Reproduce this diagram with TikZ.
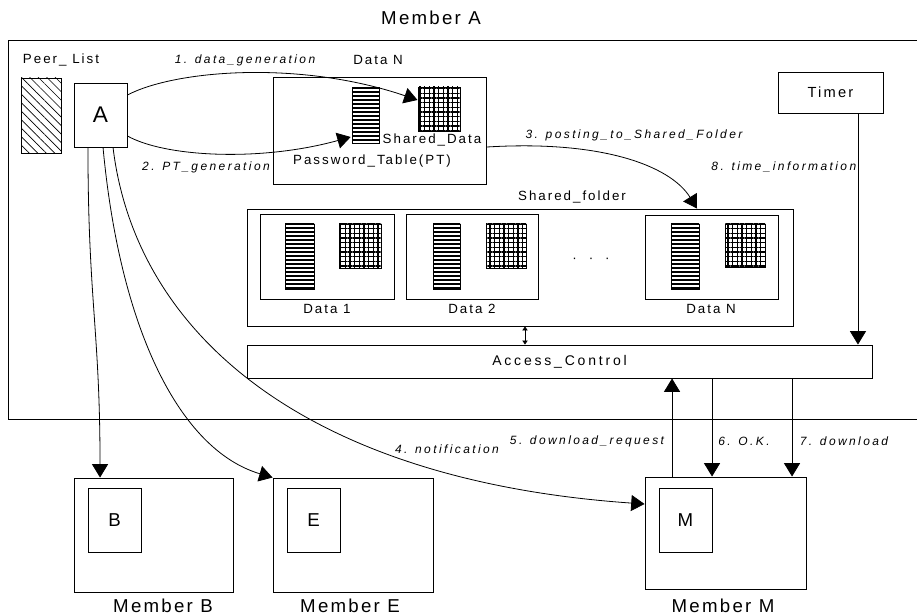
\documentclass[tikz,border=0pt]{standalone}
\usepackage{fontspec}
\setmainfont{Liberation Sans}
\newfontfamily\tagfont[LetterSpace=15]{Liberation Sans}
\newfontfamily\stepfont[LetterSpace=20]{Liberation Sans}
\newfontfamily\memberfont[LetterSpace=12]{Liberation Sans}
\usetikzlibrary{arrows.meta,fit,patterns.meta}

\tikzset{
  box/.style={draw,line width=0.7pt,inner sep=0pt},
  tag/.style={font=\tagfont\fontsize{10}{12}\selectfont,inner sep=1pt},
  steptag/.style={font=\stepfont\itshape\fontsize{9}{11}\selectfont,inner sep=1pt},
  membertag/.style={font=\memberfont\fontsize{14}{16}\selectfont,inner sep=1pt},
  idtag/.style={font=\fontsize{14}{16}\selectfont,inner sep=0pt},
  ptable/.style={box,pattern={Lines[distance=3pt,line width=2pt]}},
  sdata/.style={box,pattern={Hatch[angle=0,distance=3.5pt,line width=0.8pt]}},
  arr/.style={line width=0.6pt,-{Triangle[length=10pt,width=12pt]}}
}

\begin{document}
\begin{tikzpicture}[x=0.75pt,y=-0.75pt]
  \useasboundingbox (0,0) rectangle (917,616);

  % member A
  \node[membertag] (memA) at (431,18) {Member A};
  \draw[line width=0.7pt] (917,40) -- (8,40) -- (8,419) -- (917,419);
  \node[tag] (peerlbl) at (61,60) {Peer\_ List};
  \node[box,pattern={Lines[angle=-45,distance=4.5pt,line width=0.5pt]},fit={(21,78) (61,153)}] (peer) {};
  \node[box,fit={(74,83) (127,147)},
    label={[idtag,font=\fontsize{17}{20}\selectfont]center:A}] (A) {};

  % new data
  \node[tag] (dataNlbl) at (378,60) {Data N};
  \node[box,fit={(273,77) (486,184)}] (dataN) {};
  \node[ptable,fit={(352,87) (379,143)}] (PT) {};
  \node[sdata,fit={(418,87) (460,131)}] (SD) {};
  \node[tag] (sdlbl) at (432,140) {Shared\_Data};
  \node[tag] (ptlbl) at (372,161) {Password\_Table(PT)};

  \node[box,fit={(778,72) (883,113)},
    label={[tag,font=\tagfont\fontsize{11}{13}\selectfont]center:Timer}] (timer) {};

  % shared folder
  \node[tag] (sflbl) at (572,197) {Shared\_folder};
  \node[box,fit={(247,209) (793,326)}] (SF) {};
  \node[box,fit={(260,214) (394,299)}] (D1) {};
  \node[ptable,fit={(285,224) (314,289)}] (PT1) {};
  \node[sdata,fit={(339,224) (381,268)}] (SD1) {};
  \node[tag] (d1lbl) at (327,309) {Data 1};
  \node[box,fit={(406,214) (538,299)}] (D2) {};
  \node[ptable,fit={(433,224) (460,289)}] (PT2) {};
  \node[sdata,fit={(486,224) (526,268)}] (SD2) {};
  \node[tag] (d2lbl) at (472,309) {Data 2};
  \node[tag] (dots) at (591,260) {·\hspace{9pt}·\hspace{9pt}·};
  \node[box,fit={(645,215) (778,299)}] (DN) {};
  \node[ptable,fit={(671,224) (699,289)}] (PT3) {};
  \node[sdata,fit={(725,224) (765,267)}] (SD3) {};
  \node[tag] (dnlbl) at (711,309) {Data N};

  \node[box,fit={(247,345) (872,378)},
    label={[tag,font=\stepfont\fontsize{10.5}{12}\selectfont]center:Access\_Control}] (AC) {};

  % other members
  \node[box,fit={(74,478) (233,592)}] (MB) {};
  \node[box,fit={(88,488) (141,552)},label={[idtag]center:B}] (B) {};
  \node[membertag] (memB) at (163,606) {Member B};
  \node[box,fit={(273,478) (433,592)}] (ME) {};
  \node[box,fit={(287,488) (340,552)},label={[idtag]center:E}] (E) {};
  \node[membertag] (memE) at (350,606) {Member E};
  \node[box,fit={(645,477) (806,589)}] (MM) {};
  \node[box,fit={(659,488) (712,552)},label={[idtag]center:M}] (M) {};
  \node[membertag] (memM) at (723,606) {Member M};

  % steps
  \draw[arr] ([yshift=15pt]A.east) .. controls (175,70) and (300,60) .. ([yshift=6.75pt]SD.west);
  \node[steptag] (s1) at (245,60) {1. data\_generation};
  \draw[arr] ([yshift=-15.75pt]A.east) .. controls (165,157) and (260,162) .. ([yshift=-16.5pt]PT.west);
  \node[steptag] (s2) at (206,167) {2. PT\_generation};
  \draw[arr] ([yshift=-12.4pt]dataN.east) .. controls (600,140) and (670,165) .. ([xshift=132.75pt]SF.north);
  \node[steptag] (s3) at (634,135) {3. posting\_to\_Shared\_Folder};
  \draw[arr] ([xshift=20.6pt]timer.south) -- ([xshift=20.6pt]timer.south |- AC.north)
    node[steptag,pos=0.23,left] (s8) {8. time\_information};
  \draw[line width=0.6pt,{Triangle[length=3pt,width=4pt]}-{Triangle[length=3pt,width=4pt]}]
    ([xshift=3.75pt]SF.south) -- ([xshift=3.75pt]SF.south |- AC.north);

  \draw[arr] ([xshift=-9.4pt]A.south) .. controls (88,300) and (100,330) .. ([xshift=-40.1pt]MB.north);
  \draw[arr] ([xshift=1.9pt]A.south) .. controls (120,330) and (180,450) .. (ME.north west);
  \draw[arr] ([xshift=9.4pt]A.south) .. controls (135,330) and (300,480) .. ([yshift=21.75pt]MM.west);
  \node[steptag] (s4) at (447,449) {4. notification};

  \draw[arr] ([xshift=-40.1pt]MM.north) -- ([xshift=-40.1pt]MM.north |- AC.south);
  \node[steptag] (s5) at (587,441) {5. download\_request};
  \draw[arr] ([xshift=-10.1pt]MM.north |- AC.south) -- ([xshift=-10.1pt]MM.north);
  \node[steptag] (s6) at (744,441) {6. O.K.};
  \draw[arr] ([xshift=49.9pt]MM.north |- AC.south) -- ([xshift=49.9pt]MM.north);
  \node[steptag] (s7) at (844,441) {7. download};
\end{tikzpicture}
\end{document}
